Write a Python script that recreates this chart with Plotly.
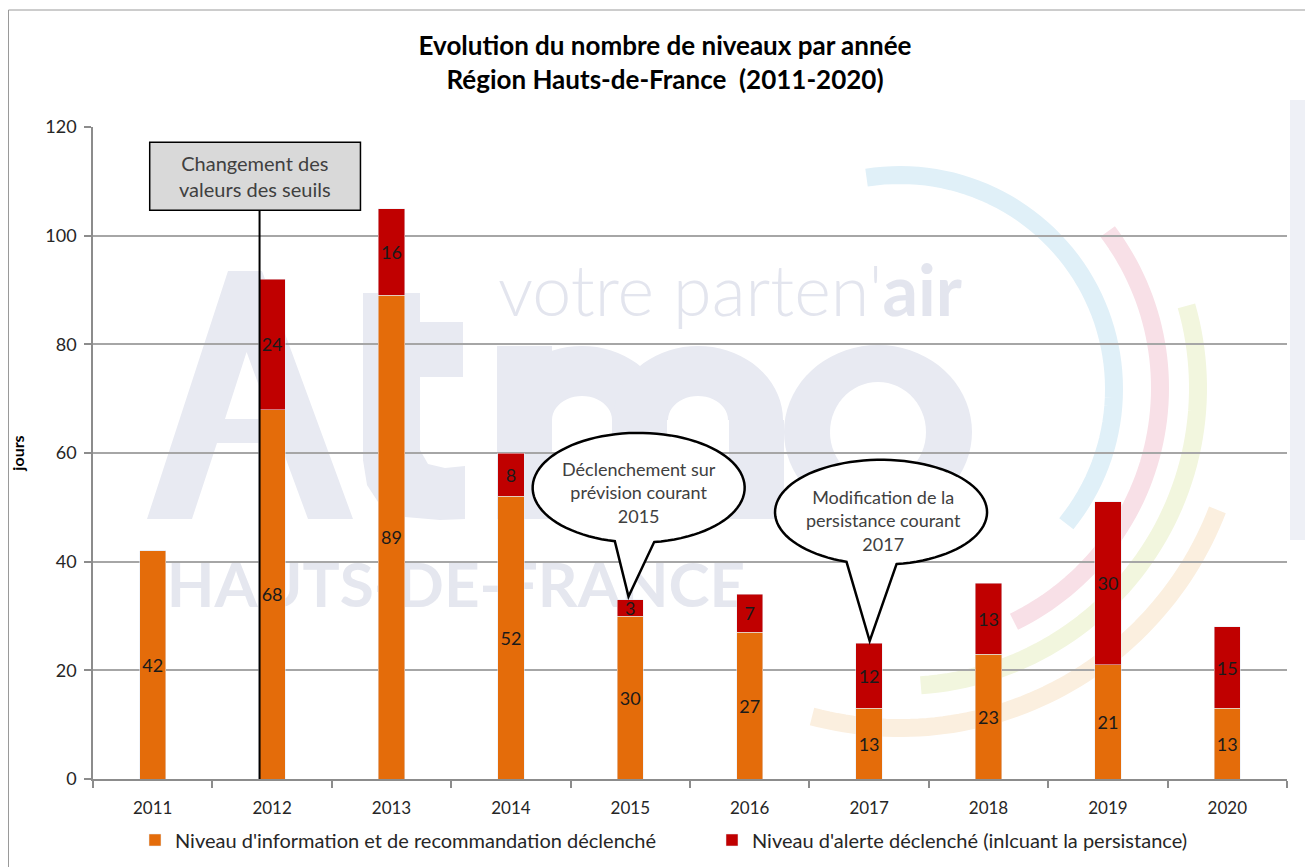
import math
import plotly.graph_objects as go

years = [2011, 2012, 2013, 2014, 2015, 2016, 2017, 2018, 2019, 2020]
info_days = [42, 68, 89, 52, 30, 27, 13, 23, 21, 13]
alert_days = [0, 24, 16, 8, 3, 7, 12, 13, 30, 15]
series_names = ["Niveau d'information et de recommandation déclenché",
                "Niveau d'alerte déclenché (inlcuant la persistance)"]
title_lines = ["Evolution du nombre de niveaux par année", "Région Hauts-de-France  (2011-2020)"]
y_ticks = [0, 20, 40, 60, 80, 100, 120]

ORANGE = "#E46C0A"
RED = "#C00000"
FONT = "Lato, 'Open Sans', sans-serif"

OFF = 8                      # default page margin of the html body
W, H = 1313 - OFF, 867 - OFF
PL, PT, PR, PB = 93, 127, 1287, 779   # plot area in page pixels
ML, MT = PL - OFF, PT - OFF
MR, MB = W - (PR - OFF), H - (PB - OFF)
PW, PH = PR - PL, PB - PT


def px2paper(px, py):
    return (px - PL) / PW, (PB - py) / PH


fig = go.Figure()
fig.add_trace(go.Bar(
    x=years, y=info_days, name=series_names[0], marker_color=ORANGE, width=0.22,
    text=[str(v) if v else "" for v in info_days], textposition="inside",
    insidetextanchor="middle", textangle=0, textfont=dict(color="#1a1a1a", size=18, family=FONT),
    hoverinfo="skip", legend="legend"))
fig.add_trace(go.Bar(
    x=years, y=alert_days, name=series_names[1], marker_color=RED, width=0.22,
    text=[str(v) if v else "" for v in alert_days], textposition="inside",
    insidetextanchor="middle", textangle=0, textfont=dict(color="#1a1a1a", size=18, family=FONT),
    hoverinfo="skip", legend="legend2"))

shapes = []
annotations = []

# ---------- faint watermark logo (behind grid and bars) ----------
WM = "#E8EAF2"


def poly_path(*rings):
    parts = []
    for ring in rings:
        pts = [px2paper(x, y) for x, y in ring]
        parts.append("M " + " L ".join(f"{x:.5f},{y:.5f}" for x, y in pts) + " Z")
    return " ".join(parts)


def ellipse_pts(cx, cy, rx, ry, a0=0, a1=360, n=72):
    return [(cx + rx * math.cos(math.radians(a0 + (a1 - a0) * i / n)),
             cy + ry * math.sin(math.radians(a0 + (a1 - a0) * i / n))) for i in range(n + 1)]


def wm_shape(path, color=WM):
    shapes.append(dict(type="path", xref="paper", yref="paper", layer="below", path=path,
                       line=dict(width=0), fillcolor=color))


def wm_arc(cx, cy, r, a0, a1, color, width):
    pts = [px2paper(x, y) for x, y in ellipse_pts(cx, cy, r, r, a0, a1, 60)]
    path = "M " + " L ".join(f"{x:.5f},{y:.5f}" for x, y in pts)
    shapes.append(dict(type="path", xref="paper", yref="paper", layer="below", path=path,
                       line=dict(color=color, width=width)))


def wm_text(text, cx, cy, size, color, weight=400, family=FONT):
    x, y = px2paper(cx, cy)
    shapes.append(dict(type="rect", xref="paper", yref="paper", layer="below",
                       x0=x - 0.001, x1=x + 0.001, y0=y - 0.001, y1=y + 0.001,
                       line=dict(width=0), fillcolor="rgba(0,0,0,0)",
                       label=dict(text=text, textposition="middle center",
                                  font=dict(size=size, color=color, family=family, weight=weight))))


# coloured arcs
wm_arc(900, 389, 214, -99, 39, "#E0F0F8", 18)
wm_arc(900, 388, 260, -37, 64, "#F8E0E7", 18)
wm_arc(900, 388, 298, -16, 86, "#F2F6DE", 18)
wm_arc(900, 388, 340, 21, 105, "#FBEFDF", 18)
# letter A
wm_shape(poly_path([(147, 519), (228, 271), (262, 271), (353, 519), (308, 519), (280, 443),
                    (217, 443), (192, 519)],
                   [(225, 419), (246.6, 352), (271, 419)][::-1]))
# letter t
wm_shape(poly_path([(363, 293), (420, 293), (420, 322), (463, 322), (463, 377), (420, 377),
                    (420, 450), (428, 464), (445, 468), (465, 466), (465, 519), (440, 520),
                    (405, 517), (380, 505), (367, 485), (363, 460)]))
# letter m : three stems + two humps
for x0, x1 in [(497, 552), (612, 667), (729, 784)]:
    wm_shape(poly_path([(x0, 420), (x1, 420), (x1, 519), (x0, 519)]))
for cxh in (582, 698):
    outer = ellipse_pts(cxh, 420, 85, 74, 180, 360, 36)
    inner = ellipse_pts(cxh, 420, 30, 24, 360, 180, 24)
    wm_shape(poly_path(outer + inner))
wm_shape(poly_path([(497, 346), (552, 346), (552, 420), (497, 420)]))
# letter o (ring)
wm_shape(poly_path(ellipse_pts(878, 432, 94, 87, 0, 360, 72),
                   ellipse_pts(878, 432, 48, 50, 360, 0, 60)))
wm_text("votre parten'<b>air</b>", 730, 288, 70, "#E3E5EE", 300)
wm_text("HAUTS-DE-FRANCE", 456, 582, 62, "#E5E7EF", 700)
wm_shape(poly_path([(1290, 100), (1313, 100), (1313, 540), (1290, 540)]), "#EEF0F6")

# ---------- outer chart border ----------
bx0, by0 = px2paper(OFF + 0.5, 10)
bx1, by1 = px2paper(1330, 880)
shapes.append(dict(type="rect", xref="paper", yref="paper", x0=bx0, x1=bx1, y0=by1, y1=by0,
                   line=dict(color="#9A9A9A", width=1), fillcolor="rgba(0,0,0,0)", layer="below"))

# ---------- "Changement des valeurs des seuils" box + line ----------
shapes.append(dict(type="line", xref="x", yref="y", x0=2011.895, x1=2011.895, y0=0, y1=104.7,
                   line=dict(color="black", width=2)))
shapes.append(dict(type="rect", xref="x", yref="y", x0=2010.975, x1=2012.74, y0=104.7, y1=117.2,
                   line=dict(color="black", width=1.5), fillcolor="#D9D9D9"))
annotations.append(dict(x=2011.855, y=111.0, xref="x", yref="y", showarrow=False,
                        text="Changement des<br>valeurs des seuils",
                        font=dict(size=20, color="#404040", family=FONT)))


# ---------- speech bubbles ----------
def bubble(cx, cy, rx, ry, a_right, a_left, tip):
    pts = []
    n = 90
    start, end = a_right, a_left + 360
    for i in range(n + 1):
        a = math.radians(start + (end - start) * i / n)
        pts.append((cx + rx * math.cos(a), cy + ry * math.sin(a)))
    pts.append(tip)
    return "M " + " L ".join(f"{x:.5f},{y:.4f}" for x, y in pts) + " Z"


shapes.append(dict(type="path", xref="x", yref="y",
                   path=bubble(2015.07, 53.6, 0.888, 10.1, -81.6, -103, (2014.985, 33.6)),
                   line=dict(color="black", width=2.5), fillcolor="white"))
annotations.append(dict(x=2015.07, y=52.8, xref="x", yref="y", showarrow=False,
                        text="Déclenchement sur<br>prévision courant<br>2015",
                        font=dict(size=18, color="#404040", family=FONT)))
shapes.append(dict(type="path", xref="x", yref="y",
                   path=bubble(2017.10, 49.1, 0.888, 9.65, -81.6, -109, (2017.005, 25.4)),
                   line=dict(color="black", width=2.5), fillcolor="white"))
annotations.append(dict(x=2017.12, y=47.5, xref="x", yref="y", showarrow=False,
                        text="Modification de la<br>persistance courant<br>2017",
                        font=dict(size=18, color="#404040", family=FONT)))

lx1, ly = px2paper(135, 840)
lx2, _ = px2paper(712, 840)
leg_common = dict(orientation="h", xanchor="left", y=ly, yanchor="middle",
                  font=dict(size=20, color="#262626", family=FONT),
                  bgcolor="rgba(0,0,0,0)", itemclick=False, itemdoubleclick=False)

fig.update_layout(
    width=W, height=H,
    margin=dict(l=ML, r=MR, t=MT, b=MB, autoexpand=False),
    paper_bgcolor="white", plot_bgcolor="rgba(0,0,0,0)",
    barmode="stack",
    showlegend=True,
    title=dict(text="<b>" + title_lines[0] + "<br>" + title_lines[1] + "</b>",
               x=(665 - OFF) / W, xref="container", xanchor="center",
               y=1 - (55 - OFF) / H, yanchor="middle",
               font=dict(size=26, color="black", family=FONT)),
    legend=dict(x=lx1, **leg_common),
    legend2=dict(x=lx2, **leg_common),
    uniformtext=dict(mode="show", minsize=18),
    shapes=shapes,
    annotations=annotations,
)
fig.update_xaxes(range=[2010.5, 2020.5], tickvals=years, ticktext=[str(y) for y in years],
                 ticks="", showgrid=False, zeroline=False, showline=True,
                 linecolor="#8C8C8C", linewidth=1.5,
                 tickfont=dict(size=17, color="#262626", family=FONT), ticklabelstandoff=13,
                 minor=dict(tickvals=[y + 0.5 for y in [2010] + years], ticks="outside",
                            ticklen=7, tickcolor="#8C8C8C", tickwidth=1.5, showgrid=False))
fig.update_yaxes(range=[0, 120], tickvals=y_ticks, ticks="outside", ticklen=7,
                 tickcolor="#8C8C8C", tickwidth=1.5,
                 showgrid=True, gridcolor="#A6A6A6", gridwidth=1.5, zeroline=False,
                 showline=True, linecolor="#8C8C8C", linewidth=1.5,
                 tickfont=dict(size=18, color="#262626", family=FONT), ticklabelstandoff=4,
                 title=dict(text="<b>jours</b>", font=dict(size=16, color="black", family=FONT),
                            standoff=18))

fig.write_html("out.html")
